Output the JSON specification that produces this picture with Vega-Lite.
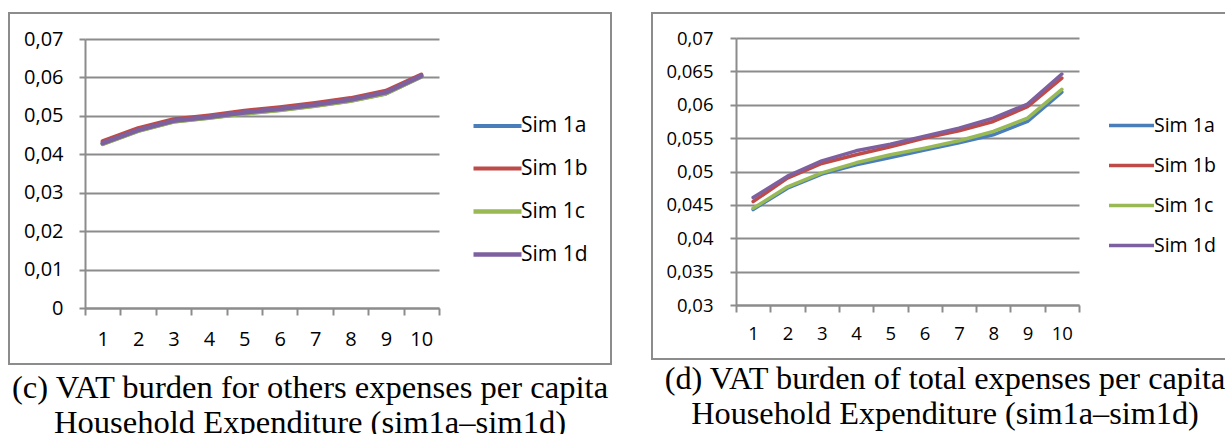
{
  "$schema": "https://vega.github.io/schema/vega-lite/v6.json",
  "padding": {"left": 8, "top": 12, "right": 0, "bottom": 0},
  "background": "white",
  "spacing": 39,
  "resolve": {
    "scale": {"color": "independent", "strokeWidth": "independent", "x": "independent", "y": "independent"},
    "legend": {"color": "independent"}
  },
  "config": {
    "view": {"stroke": "#8c8c8c", "strokeWidth": 2},
    "font": "Open Sans",
    "axis": {
      "domainColor": "#8c8c8c", "domainWidth": 2,
      "tickColor": "#8c8c8c", "tickWidth": 2,
      "gridColor": "#8c8c8c", "gridWidth": 2,
      "labelColor": "#000000", "labelFont": "Open Sans",
      "title": null
    },
    "legend": {"labelFont": "Open Sans", "labelColor": "#000000"},
    "title": {"font": "Liberation Serif", "fontSize": 32.6, "fontWeight": "normal", "color": "black", "lineHeight": 35, "anchor": "middle"}
  },
  "datasets": {
    "vat": [
      {"panel": "c", "series": "Sim 1a", "decile": 1, "value": 0.0427},
      {"panel": "c", "series": "Sim 1a", "decile": 2, "value": 0.0461},
      {"panel": "c", "series": "Sim 1a", "decile": 3, "value": 0.0485},
      {"panel": "c", "series": "Sim 1a", "decile": 4, "value": 0.0495},
      {"panel": "c", "series": "Sim 1a", "decile": 5, "value": 0.0506},
      {"panel": "c", "series": "Sim 1a", "decile": 6, "value": 0.0515},
      {"panel": "c", "series": "Sim 1a", "decile": 7, "value": 0.0526},
      {"panel": "c", "series": "Sim 1a", "decile": 8, "value": 0.0539},
      {"panel": "c", "series": "Sim 1a", "decile": 9, "value": 0.0558},
      {"panel": "c", "series": "Sim 1a", "decile": 10, "value": 0.0602},
      {"panel": "c", "series": "Sim 1b", "decile": 1, "value": 0.0434},
      {"panel": "c", "series": "Sim 1b", "decile": 2, "value": 0.0468},
      {"panel": "c", "series": "Sim 1b", "decile": 3, "value": 0.0491},
      {"panel": "c", "series": "Sim 1b", "decile": 4, "value": 0.0501},
      {"panel": "c", "series": "Sim 1b", "decile": 5, "value": 0.0513},
      {"panel": "c", "series": "Sim 1b", "decile": 6, "value": 0.0522},
      {"panel": "c", "series": "Sim 1b", "decile": 7, "value": 0.0533},
      {"panel": "c", "series": "Sim 1b", "decile": 8, "value": 0.0546},
      {"panel": "c", "series": "Sim 1b", "decile": 9, "value": 0.0565},
      {"panel": "c", "series": "Sim 1b", "decile": 10, "value": 0.0607},
      {"panel": "c", "series": "Sim 1c", "decile": 1, "value": 0.0427},
      {"panel": "c", "series": "Sim 1c", "decile": 2, "value": 0.0461},
      {"panel": "c", "series": "Sim 1c", "decile": 3, "value": 0.0485},
      {"panel": "c", "series": "Sim 1c", "decile": 4, "value": 0.0495},
      {"panel": "c", "series": "Sim 1c", "decile": 5, "value": 0.0506},
      {"panel": "c", "series": "Sim 1c", "decile": 6, "value": 0.0515},
      {"panel": "c", "series": "Sim 1c", "decile": 7, "value": 0.0526},
      {"panel": "c", "series": "Sim 1c", "decile": 8, "value": 0.0539},
      {"panel": "c", "series": "Sim 1c", "decile": 9, "value": 0.0558},
      {"panel": "c", "series": "Sim 1c", "decile": 10, "value": 0.0602},
      {"panel": "c", "series": "Sim 1d", "decile": 1, "value": 0.0429},
      {"panel": "c", "series": "Sim 1d", "decile": 2, "value": 0.0463},
      {"panel": "c", "series": "Sim 1d", "decile": 3, "value": 0.0487},
      {"panel": "c", "series": "Sim 1d", "decile": 4, "value": 0.0497},
      {"panel": "c", "series": "Sim 1d", "decile": 5, "value": 0.0509},
      {"panel": "c", "series": "Sim 1d", "decile": 6, "value": 0.0518},
      {"panel": "c", "series": "Sim 1d", "decile": 7, "value": 0.0529},
      {"panel": "c", "series": "Sim 1d", "decile": 8, "value": 0.0542},
      {"panel": "c", "series": "Sim 1d", "decile": 9, "value": 0.0561},
      {"panel": "c", "series": "Sim 1d", "decile": 10, "value": 0.0604},
      {"panel": "d", "series": "Sim 1a", "decile": 1, "value": 0.0443},
      {"panel": "d", "series": "Sim 1a", "decile": 2, "value": 0.0475},
      {"panel": "d", "series": "Sim 1a", "decile": 3, "value": 0.0496},
      {"panel": "d", "series": "Sim 1a", "decile": 4, "value": 0.0510},
      {"panel": "d", "series": "Sim 1a", "decile": 5, "value": 0.0521},
      {"panel": "d", "series": "Sim 1a", "decile": 6, "value": 0.0532},
      {"panel": "d", "series": "Sim 1a", "decile": 7, "value": 0.0543},
      {"panel": "d", "series": "Sim 1a", "decile": 8, "value": 0.0555},
      {"panel": "d", "series": "Sim 1a", "decile": 9, "value": 0.0575},
      {"panel": "d", "series": "Sim 1a", "decile": 10, "value": 0.0619},
      {"panel": "d", "series": "Sim 1b", "decile": 1, "value": 0.0455},
      {"panel": "d", "series": "Sim 1b", "decile": 2, "value": 0.0490},
      {"panel": "d", "series": "Sim 1b", "decile": 3, "value": 0.0512},
      {"panel": "d", "series": "Sim 1b", "decile": 4, "value": 0.0525},
      {"panel": "d", "series": "Sim 1b", "decile": 5, "value": 0.0537},
      {"panel": "d", "series": "Sim 1b", "decile": 6, "value": 0.0550},
      {"panel": "d", "series": "Sim 1b", "decile": 7, "value": 0.0561},
      {"panel": "d", "series": "Sim 1b", "decile": 8, "value": 0.0575},
      {"panel": "d", "series": "Sim 1b", "decile": 9, "value": 0.0597},
      {"panel": "d", "series": "Sim 1b", "decile": 10, "value": 0.0640},
      {"panel": "d", "series": "Sim 1c", "decile": 1, "value": 0.0445},
      {"panel": "d", "series": "Sim 1c", "decile": 2, "value": 0.0477},
      {"panel": "d", "series": "Sim 1c", "decile": 3, "value": 0.0498},
      {"panel": "d", "series": "Sim 1c", "decile": 4, "value": 0.0513},
      {"panel": "d", "series": "Sim 1c", "decile": 5, "value": 0.0525},
      {"panel": "d", "series": "Sim 1c", "decile": 6, "value": 0.0535},
      {"panel": "d", "series": "Sim 1c", "decile": 7, "value": 0.0546},
      {"panel": "d", "series": "Sim 1c", "decile": 8, "value": 0.0560},
      {"panel": "d", "series": "Sim 1c", "decile": 9, "value": 0.0580},
      {"panel": "d", "series": "Sim 1c", "decile": 10, "value": 0.0623},
      {"panel": "d", "series": "Sim 1d", "decile": 1, "value": 0.0461},
      {"panel": "d", "series": "Sim 1d", "decile": 2, "value": 0.0493},
      {"panel": "d", "series": "Sim 1d", "decile": 3, "value": 0.0516},
      {"panel": "d", "series": "Sim 1d", "decile": 4, "value": 0.0531},
      {"panel": "d", "series": "Sim 1d", "decile": 5, "value": 0.0541},
      {"panel": "d", "series": "Sim 1d", "decile": 6, "value": 0.0553},
      {"panel": "d", "series": "Sim 1d", "decile": 7, "value": 0.0565},
      {"panel": "d", "series": "Sim 1d", "decile": 8, "value": 0.0580},
      {"panel": "d", "series": "Sim 1d", "decile": 9, "value": 0.0601},
      {"panel": "d", "series": "Sim 1d", "decile": 10, "value": 0.0646}
    ]
  },
  "hconcat": [
    {
      "width": 602,
      "height": 351,
      "data": {"name": "vat"},
      "transform": [{"filter": "datum.panel === 'c'"}],
      "title": {"text": ["(c) VAT burden for others expenses per capita", "Household Expenditure (sim1a–sim1d)"], "orient": "bottom", "offset": 8},
      "mark": {"type": "line", "strokeCap": "round", "strokeJoin": "round"},
      "encoding": {
        "x": {
          "field": "decile", "type": "ordinal",
          "scale": {"type": "band", "range": [76, 430], "paddingInner": 0, "paddingOuter": 0},
          "axis": {"orient": "bottom", "offset": -56, "tickBand": "extent", "labelAngle": 0, "labelPadding": 14, "tickSize": 7, "labelFontSize": 20, "title": null}
        },
        "y": {
          "field": "value", "type": "quantitative",
          "scale": {"domain": [0, 0.07], "range": [295, 26], "nice": false, "zero": false},
          "axis": {"offset": -76, "values": [0, 0.01, 0.02, 0.03, 0.04, 0.05, 0.06, 0.07], "labelExpr": "replace(format(datum.value, '~g'), '.', ',')", "grid": true, "tickSize": 6, "labelPadding": 16, "labelFontSize": 20, "title": null}
        },
        "color": {
          "field": "series", "type": "nominal",
          "scale": {"domain": ["Sim 1a", "Sim 1b", "Sim 1c", "Sim 1d"], "range": ["#4A7EBB", "#BE4B48", "#98B954", "#7D60A0"]},
          "legend": {"orient": "none", "legendX": 462, "legendY": 87, "title": null, "symbolType": "stroke", "symbolSize": 2304, "symbolStrokeWidth": 4.5, "labelFontSize": 21, "labelOffset": -3, "rowPadding": 6}
        },
        "strokeWidth": {
          "field": "series", "type": "ordinal",
          "scale": {"domain": ["Sim 1a", "Sim 1b", "Sim 1c", "Sim 1d"], "range": [4, 4.5, 4.5, 7]},
          "legend": null
        }
      }
    },
    {
      "width": 574,
      "height": 346,
      "data": {"name": "vat"},
      "transform": [{"filter": "datum.panel === 'd'"}],
      "title": {"text": ["(d) VAT burden of total expenses per capita", "Household Expenditure (sim1a–sim1d)"], "orient": "bottom", "offset": 4, "dx": 6, "fontSize": 32.3},
      "mark": {"type": "line", "strokeCap": "round", "strokeJoin": "round"},
      "encoding": {
        "x": {
          "field": "decile", "type": "ordinal",
          "scale": {"type": "band", "range": [84, 427], "paddingInner": 0, "paddingOuter": 0},
          "axis": {"orient": "bottom", "offset": -54, "tickBand": "extent", "labelAngle": 0, "labelPadding": 12, "tickSize": 7, "labelFontSize": 18.5, "title": null}
        },
        "y": {
          "field": "value", "type": "quantitative",
          "scale": {"domain": [0.03, 0.07], "range": [292, 25], "nice": false, "zero": false},
          "axis": {"offset": -84, "values": [0.03, 0.035, 0.04, 0.045, 0.05, 0.055, 0.06, 0.065, 0.07], "labelExpr": "replace(format(datum.value, '~g'), '.', ',')", "grid": true, "tickSize": 6, "labelPadding": 17, "labelFontSize": 18.5, "title": null}
        },
        "color": {
          "field": "series", "type": "nominal",
          "scale": {"domain": ["Sim 1a", "Sim 1b", "Sim 1c", "Sim 1d"], "range": ["#4A7EBB", "#BE4B48", "#98B954", "#7D60A0"]},
          "legend": {"orient": "none", "legendX": 455, "legendY": 88, "title": null, "symbolType": "stroke", "symbolSize": 2025, "symbolStrokeWidth": 4.5, "labelFontSize": 19.5, "labelOffset": -2, "rowPadding": 6}
        },
        "strokeWidth": {
          "field": "series", "type": "ordinal",
          "scale": {"domain": ["Sim 1a", "Sim 1b", "Sim 1c", "Sim 1d"], "range": [3.5, 3.5, 5, 6]},
          "legend": null
        }
      }
    }
  ]
}
